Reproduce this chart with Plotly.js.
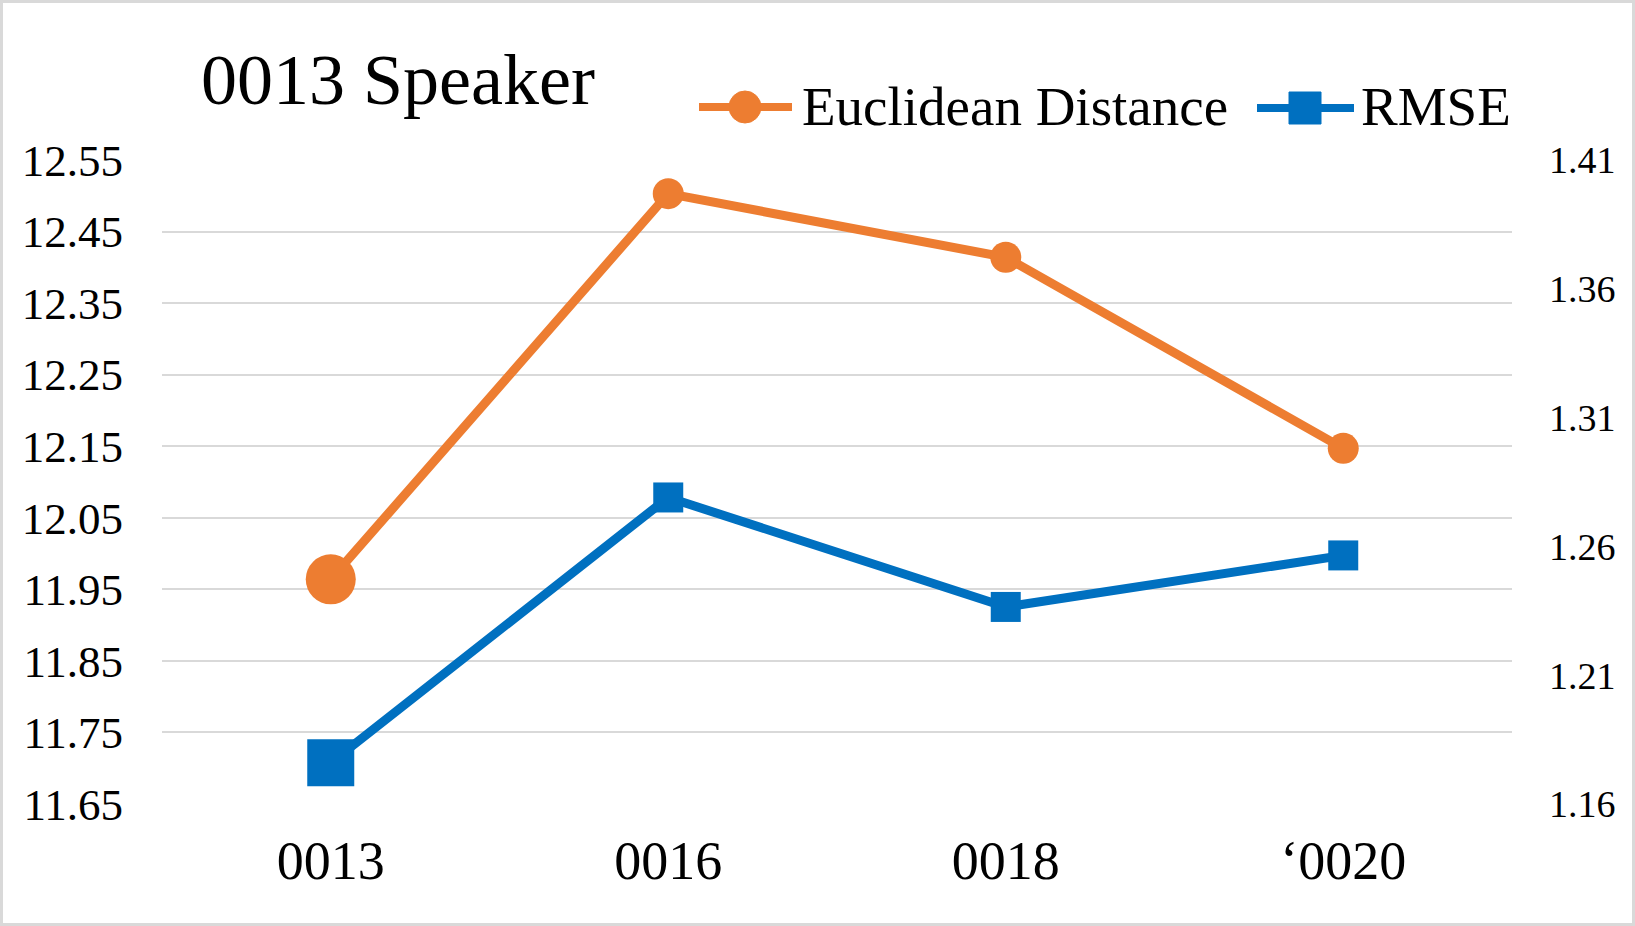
<!doctype html>
<html><head><meta charset="utf-8" />
<script src="https://cdn.plot.ly/plotly-3.0.1.min.js"></script>
<style>
  body { margin:0; background:#fff; }
  #chart { width:1635px; height:926px; }
  .frame { position:absolute; left:0; top:0; width:1635px; height:926px; box-sizing:border-box;
    border:3px solid #d9d9d9; pointer-events:none; }
</style></head>
<body>
<div id="chart"></div>
<div class="frame"></div>
<script>
// 0013 speaker: Euclidean distance (left axis) vs RMSE (right axis)
const speakers = ['0013', '0016', '0018', '\u20180020'];
const euclid = [11.964, 12.503, 12.414, 12.147];
const rmse = [1.176, 1.279, 1.2365, 1.2565];
const leftTicks = [11.65, 11.75, 11.85, 11.95, 12.05, 12.15, 12.25, 12.35, 12.45, 12.55];
const rightTicks = [1.16, 1.21, 1.26, 1.31, 1.36, 1.41];

const FONT = 'Liberation Serif, Times New Roman, serif';
const ORANGE = '#ED7D31';
const BLUE = '#0070C0';

// plot area in pixels (margins below) -> paper coords, for the hand-drawn legend
const M = { l:162, r:123, t:160, b:122 };
const PW = 1635 - M.l - M.r, PH = 926 - M.t - M.b;
const px = (x) => (x - M.l) / PW;
const py = (y) => (926 - M.b - y) / PH;

const traces = [
  {
    type:'scatter', mode:'lines+markers', name:'Euclidean Distance',
    x: speakers, y: euclid,
    line:{ color:ORANGE, width:9 },
    marker:{ symbol:'circle', color:ORANGE, opacity:1, size:[50, 31, 31, 31], line:{ width:0 } },
  },
  {
    type:'scatter', mode:'lines+markers', name:'RMSE', yaxis:'y2',
    x: speakers, y: rmse,
    line:{ color:BLUE, width:9 },
    marker:{ symbol:'square', color:BLUE, opacity:1, size:[47, 30, 30, 30], line:{ width:0 } },
  },
];

// legend: long line with marker in the middle, like the office chart
const legendItems = [
  { name: traces[0].name, color:ORANGE, shape:'circle', x0:699, x1:792, mx:745, y:107, tx:800 },
  { name: traces[1].name, color:BLUE, shape:'rect', x0:1257, x1:1354, mx:1305, y:108, tx:1359 },
];
const shapes = [];
const annotations = [];
legendItems.forEach((it) => {
  shapes.push({ type:'line', xref:'paper', yref:'paper', x0:px(it.x0), x1:px(it.x1), y0:py(it.y), y1:py(it.y),
    line:{ color:it.color, width:8 } });
  shapes.push({ type:it.shape, xref:'paper', yref:'paper', x0:px(it.mx - 16), x1:px(it.mx + 16),
    y0:py(it.y - 16), y1:py(it.y + 16), fillcolor:it.color, line:{ color:it.color, width:1 } });
  annotations.push({ xref:'paper', yref:'paper', x:px(it.tx), y:py(it.y - 1), xanchor:'left', yanchor:'middle',
    text:it.name, showarrow:false, font:{ family:FONT, size:55, color:'#000' } });
});

const layout = {
  width:1635, height:926,
  paper_bgcolor:'#fff', plot_bgcolor:'#fff',
  font:{ family:FONT, color:'#000' },
  margin:M,
  showlegend:false,
  title:{ text:'0013 Speaker', font:{ family:FONT, size:72, color:'#000' },
    x:201/1635, xanchor:'left', xref:'container', y:1 - 79/926, yanchor:'middle', yref:'container' },
  shapes, annotations,
  xaxis:{ type:'category', range:[-0.5, 3.5], showgrid:false, zeroline:false, showline:false,
    ticks:'', tickfont:{ family:FONT, size:54, color:'#000' }, ticklabelstandoff:20 },
  yaxis:{ range:[11.65, 12.55], tickvals:leftTicks, ticktext:leftTicks.map((v) => v.toFixed(2)),
    showgrid:true, gridcolor:'#d9d9d9', gridwidth:2, zeroline:false, showline:false, ticks:'',
    tickfont:{ family:FONT, size:45, color:'#000' }, ticklabelstandoff:38 },
  yaxis2:{ overlaying:'y', side:'right', range:[1.16, 1.41], tickvals:rightTicks,
    ticktext:rightTicks.map((v) => v.toFixed(2)), showgrid:false, zeroline:false, showline:false, ticks:'',
    tickfont:{ family:FONT, size:38, color:'#000' }, ticklabelstandoff:36 },
};

Plotly.newPlot('chart', traces, layout, { displayModeBar:false, staticPlot:true });
</script>
</body></html>
